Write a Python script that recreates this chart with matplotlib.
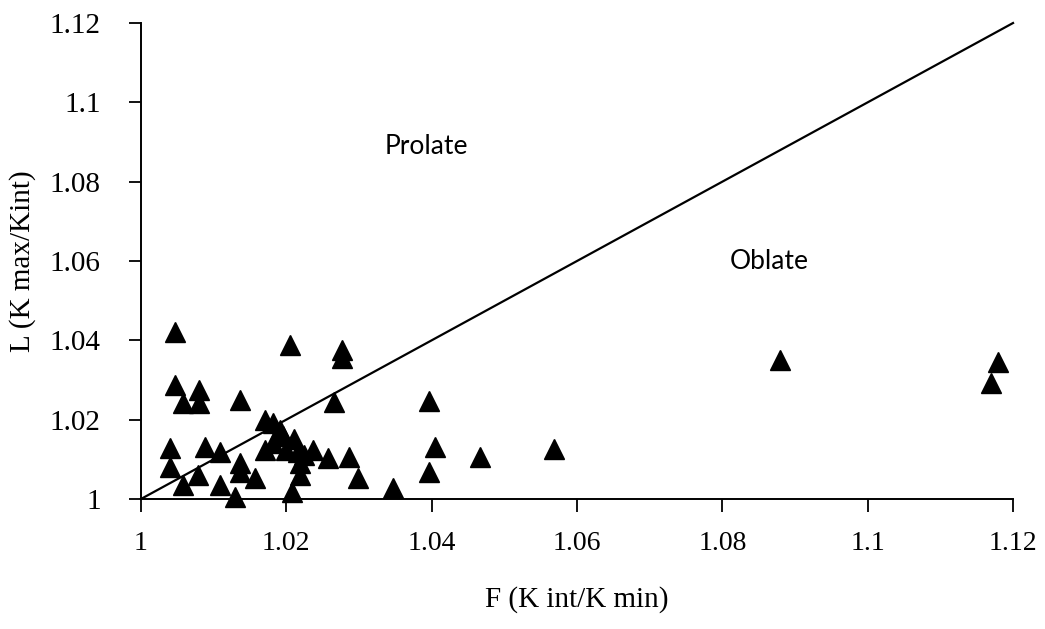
import matplotlib
matplotlib.use("Agg")
import matplotlib.pyplot as plt
from matplotlib.ticker import FixedLocator, FixedFormatter

# F (K int/K min) et L (K max/K int) de chaque site
f_vals = [1.0047, 1.0205, 1.0277, 1.0277, 1.0047, 1.0080, 1.0058, 1.0080, 1.0136, 1.0265,
          1.0171, 1.0182, 1.0191, 1.0040, 1.0040, 1.0088, 1.0109, 1.0171, 1.0182, 1.0200,
          1.0216, 1.0237, 1.0257, 1.0286, 1.0136, 1.0136, 1.0219, 1.0219, 1.0078, 1.0058,
          1.0109, 1.0157, 1.0129, 1.0208, 1.0298, 1.0347, 1.0396, 1.0404, 1.0396, 1.0466,
          1.0569, 1.0879, 1.1180, 1.1170, 1.0195, 1.0210, 1.0225]
l_vals = [1.0422, 1.0388, 1.0376, 1.0356, 1.0288, 1.0275, 1.0242, 1.0242, 1.0250, 1.0245,
          1.0199, 1.0192, 1.0174, 1.0129, 1.0081, 1.0131, 1.0119, 1.0124, 1.0141, 1.0124,
          1.0119, 1.0124, 1.0103, 1.0106, 1.0091, 1.0068, 1.0091, 1.0060, 1.0060, 1.0035,
          1.0035, 1.0053, 1.0005, 1.0018, 1.0053, 1.0028, 1.0247, 1.0131, 1.0068, 1.0106,
          1.0126, 1.0350, 1.0345, 1.0293, 1.0160, 1.0150, 1.0110]

ticks = [1.0, 1.02, 1.04, 1.06, 1.08, 1.10, 1.12]
tick_labels = ["1", "1.02", "1.04", "1.06", "1.08", "1.1", "1.12"]

serif = "Liberation Serif"

fig = plt.figure(figsize=(10.45, 6.29), dpi=100)
ax = fig.add_axes([0.1349, 0.2067, 0.8345, 0.7567])

# droite L = F séparant les domaines
ax.plot([1.0, 1.12], [1.0, 1.12], color="black", lw=1.6, clip_on=False, zorder=2)
ax.plot(f_vals, l_vals, linestyle="none", marker="^", ms=14, color="black",
        clip_on=False, zorder=3)

ax.set_xlim(1.0, 1.12)
ax.set_ylim(1.0, 1.12)
for axis in (ax.xaxis, ax.yaxis):
    axis.set_major_locator(FixedLocator(ticks))
    axis.set_major_formatter(FixedFormatter(tick_labels))

for side in ("top", "right"):
    ax.spines[side].set_visible(False)
for side in ("left", "bottom"):
    ax.spines[side].set_linewidth(1.4)

ax.tick_params(direction="out", length=9, width=1.3, colors="black")
ax.tick_params(axis="x", pad=14)
ax.tick_params(axis="y", pad=20)
for lab in ax.get_xticklabels():
    lab.set_fontfamily(serif)
    lab.set_fontsize(20)
for lab in ax.get_yticklabels():
    lab.set_fontfamily(serif)
    lab.set_fontsize(21)

ax.set_xlabel("F (K int/K min)", fontfamily=serif, fontsize=21, labelpad=22)
ax.set_ylabel("L (K max/Kint)", fontfamily=serif, fontsize=21, labelpad=10)

ax.text(1.0393, 1.0888, "Prolate", fontfamily="Lato", fontsize=19, ha="center", va="center")
ax.text(1.0865, 1.0598, "Oblate", fontfamily="Lato", fontsize=19, ha="center", va="center")

fig.savefig("out.png", dpi=100, facecolor="white")
